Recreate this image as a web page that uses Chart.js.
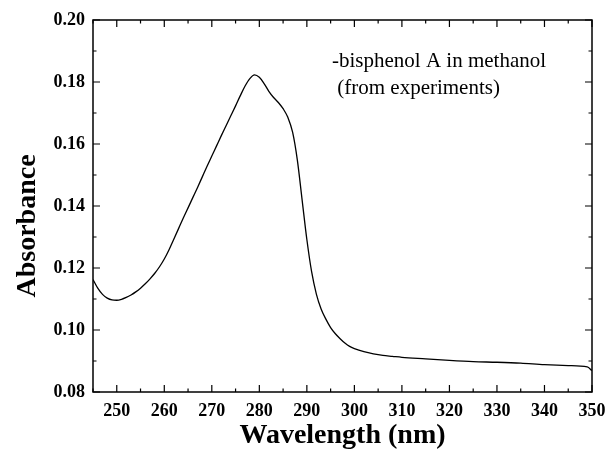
<!DOCTYPE html>
<html>
<head>
<meta charset="utf-8">
<script src="https://cdn.jsdelivr.net/npm/chart.js@4.4.1/dist/chart.umd.min.js"></script>
<style>
  html, body { margin: 0; padding: 0; background: #fff; }
  #wrap { width: 609px; height: 463px; position: relative; }
</style>
</head>
<body>
<div id="wrap"><canvas id="uv"></canvas></div>
<script>
// wavelength (nm) and absorbance
const wavelengths = [245, 246, 247, 248, 249, 250, 251, 252, 253, 254, 255, 256, 257, 258, 259, 260,
    261, 262, 263, 264, 265, 266, 267, 268, 269, 270, 271, 272, 273, 274, 275, 276, 277, 278, 279, 280,
    281, 282, 283, 284, 285, 286, 287, 288, 289, 290, 291, 292, 293, 294, 295, 296, 297, 298, 299, 300,
    302, 304, 306, 308, 310, 315, 320, 325, 330, 335, 340, 345, 349, 350];
const absorbance = [0.1163, 0.1135, 0.1115, 0.1103, 0.1097, 0.1096, 0.1099, 0.1105, 0.1113, 0.1123, 0.1135, 0.1149, 0.1165, 0.1183, 0.1204, 0.1229,
    0.1259, 0.1293, 0.1327, 0.1361, 0.1394, 0.1427, 0.1460, 0.1494, 0.1528, 0.1561, 0.1594, 0.1627, 0.1659, 0.1691, 0.1723, 0.1756, 0.1787, 0.1811, 0.1823, 0.1815,
    0.1795, 0.1770, 0.1750, 0.1734, 0.1714, 0.1686, 0.1638, 0.1548, 0.1420, 0.1292, 0.1188, 0.1116, 0.1068, 0.1035, 0.1008, 0.0988, 0.0972, 0.0958, 0.0947, 0.0940,
    0.0930, 0.0923, 0.0918, 0.0915, 0.0912, 0.0907, 0.0902, 0.0898, 0.0896, 0.0893, 0.0888, 0.0885, 0.0881, 0.0869];
const xTickValues = [250, 260, 270, 280, 290, 300, 310, 320, 330, 340, 350];
const yTickValues = [0.08, 0.10, 0.12, 0.14, 0.16, 0.18, 0.20];
const noteLines = ['-bisphenol A in methanol', ' (from experiments)'];

const serif = '"Liberation Serif", "Times New Roman", Times, serif';

// frame on all four sides + inward ticks like the Origin plot
const framePlugin = {
    id: 'frame',
    afterDraw(chart) {
        const { ctx, chartArea: a, scales: { x, y } } = chart;
        ctx.save();
        ctx.strokeStyle = '#000';
        ctx.lineWidth = 1.5;
        ctx.strokeRect(a.left, a.top, a.right - a.left, a.bottom - a.top);
        ctx.lineWidth = 1.2;
        ctx.beginPath();
        for (let v = 245; v <= 350; v += 5) {
            const px = x.getPixelForValue(v);
            const len = v % 10 === 0 ? 7 : 3.5;
            ctx.moveTo(px, a.bottom); ctx.lineTo(px, a.bottom - len);
            ctx.moveTo(px, a.top); ctx.lineTo(px, a.top + len);
        }
        for (let i = 8; i <= 20; i++) {
            const py = y.getPixelForValue(i / 100);
            const len = i % 2 === 0 ? 7 : 3.5;
            ctx.moveTo(a.left, py); ctx.lineTo(a.left + len, py);
            ctx.moveTo(a.right, py); ctx.lineTo(a.right - len, py);
        }
        ctx.stroke();

        // y axis title
        ctx.fillStyle = '#000';
        ctx.font = 'bold 28px ' + serif;
        ctx.textAlign = 'center';
        ctx.textBaseline = 'alphabetic';
        ctx.translate(35, 226);
        ctx.rotate(-Math.PI / 2);
        ctx.fillText('Absorbance', 0, 0);
        ctx.restore();

        // note
        ctx.save();
        ctx.fillStyle = '#000';
        ctx.font = '21px ' + serif;
        ctx.textAlign = 'left';
        ctx.textBaseline = 'alphabetic';
        ctx.fillText(noteLines[0], 332, 67);
        ctx.fillText(noteLines[1], 332, 94);
        ctx.restore();
    }
};

new Chart(document.getElementById('uv'), {
    type: 'line',
    data: {
        datasets: [{
            data: wavelengths.map((w, i) => ({ x: w, y: absorbance[i] })),
            borderColor: '#000',
            borderWidth: 1.3,
            pointRadius: 0,
            cubicInterpolationMode: 'monotone',
            fill: false
        }]
    },
    options: {
        responsive: true,
        maintainAspectRatio: false,
        animation: false,
        layout: { padding: { left: 0, right: 17, top: 20, bottom: 0 } },
        plugins: { legend: { display: false }, tooltip: { enabled: false } },
        scales: {
            x: {
                type: 'linear',
                min: 245,
                max: 350,
                afterBuildTicks: s => { s.ticks = xTickValues.map(v => ({ value: v })); },
                afterFit: s => { s.height = 71; s.paddingLeft = 0; s.paddingRight = 0; },
                grid: { display: false, drawTicks: false },
                border: { display: false },
                ticks: {
                    padding: 9,
                    color: '#000',
                    font: { family: serif, size: 18, weight: 'bold' }
                },
                title: {
                    display: true,
                    text: 'Wavelength (nm)',
                    color: '#000',
                    font: { family: serif, size: 28, weight: 'bold' },
                    padding: { top: 0, bottom: 10 }
                }
            },
            y: {
                min: 0.08,
                max: 0.20,
                afterBuildTicks: s => { s.ticks = yTickValues.map(v => ({ value: v })); },
                afterFit: s => { s.width = 93; s.paddingTop = 0; s.paddingBottom = 0; },
                grid: { display: false, drawTicks: false },
                border: { display: false },
                ticks: {
                    padding: 8,
                    color: '#000',
                    font: { family: serif, size: 18, weight: 'bold' },
                    callback: v => v.toFixed(2)
                }
            }
        }
    },
    plugins: [framePlugin]
});
</script>
</body>
</html>
